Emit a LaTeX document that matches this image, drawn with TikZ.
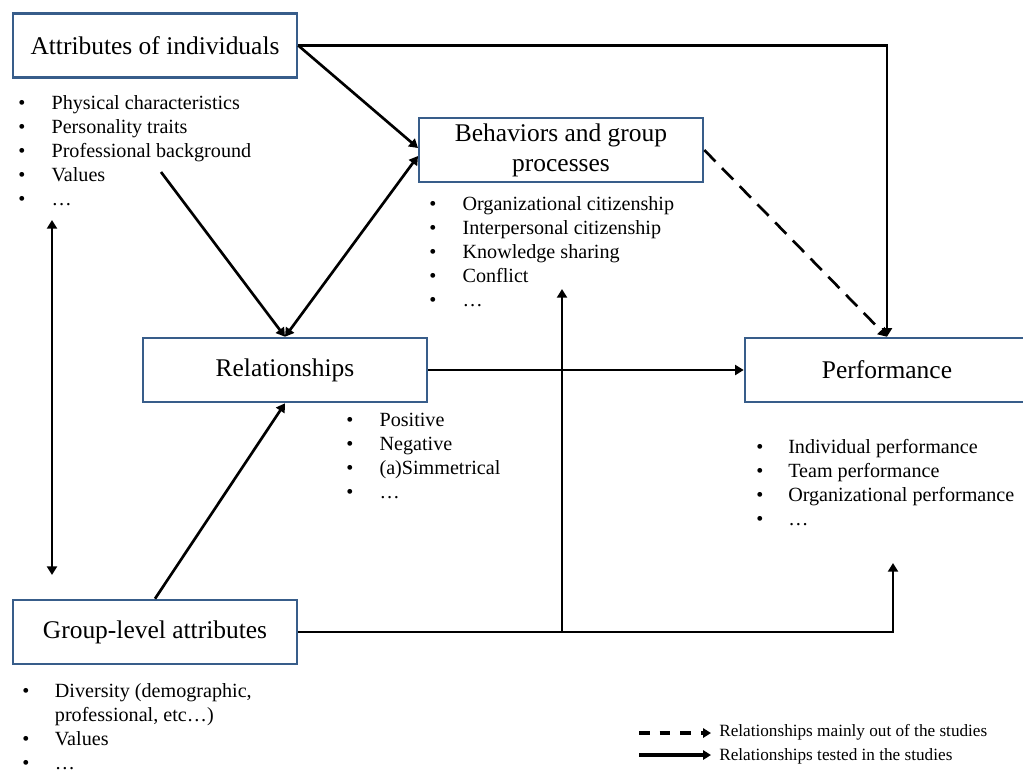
\documentclass[tikz,border=0pt]{standalone}
\usepackage{fontspec}
\setmainfont{Liberation Serif}
\usetikzlibrary{arrows.meta}
\definecolor{boxblue}{RGB}{56,93,138}

\begin{document}
\begin{tikzpicture}[x=0.75pt,y=-0.75pt,
  box/.style={draw=boxblue, line width=1.9pt, fill=white,
    minimum width=213pt, minimum height=48pt, inner sep=0pt,
    align=center, font=\fontsize{19.1}{22.5}\selectfont},
  link/.style={line width=2pt, -{Triangle[length=6.5pt,width=7.5pt]}},
  both/.style={line width=2pt, {Triangle[length=6.5pt,width=7.5pt]}-{Triangle[length=6.5pt,width=7.5pt]}},
  guess/.style={link, dash pattern=on 12pt off 7pt},
  items/.style={anchor=base west, inner sep=0pt, font=\fontsize{15.1}{18}\selectfont},
  key/.style={anchor=base west, inner sep=0pt, font=\fontsize{12.9}{15}\selectfont},
  keyline/.style={line width=2.6pt, -{Triangle[length=6pt,width=7pt]}}]

\useasboundingbox (0,0) rectangle (1023,769);
\clip (0,0) rectangle (1023,769);

% main boxes
\node[box] (A) at (155,45.5) {Attributes of individuals};
\node[box] (B) at (561,150) {Behaviors and group\\processes};
\node[box] (R) at (285,370) {Relationships};
\node[box] (P) at (887,370) {Performance};
\node[box] (G) at (155,632) {Group-level attributes};

% bullet lists
\node[items] (LA) at (18,109) {\begin{tabular}[t]{@{}p{25pt}@{}l@{}}
  \textbullet & Physical characteristics\\
  \textbullet & Personality traits\\
  \textbullet & Professional background\\
  \textbullet & Values\\
  \textbullet & …
\end{tabular}};
\node[items] (LB) at (429,210.5) {\begin{tabular}[t]{@{}p{25pt}@{}l@{}}
  \textbullet & Organizational citizenship\\
  \textbullet & Interpersonal citizenship\\
  \textbullet & Knowledge sharing\\
  \textbullet & Conflict\\
  \textbullet & …
\end{tabular}};
\node[items] (LR) at (346,426) {\begin{tabular}[t]{@{}p{25pt}@{}l@{}}
  \textbullet & Positive\\
  \textbullet & Negative\\
  \textbullet & (a)Simmetrical\\
  \textbullet & …
\end{tabular}};
\node[items] (LP) at (756,453) {\begin{tabular}[t]{@{}p{24pt}@{}l@{}}
  \textbullet & Individual performance\\
  \textbullet & Team performance\\
  \textbullet & Organizational performance\\
  \textbullet & …
\end{tabular}};
\node[items] (LG) at (22,697) {\begin{tabular}[t]{@{}p{24.5pt}@{}l@{}}
  \textbullet & Diversity (demographic,\\
              & professional, etc…)\\
  \textbullet & Values\\
  \textbullet & …
\end{tabular}};

% free ends of connectors
\coordinate (vs) at (161,172);
\coordinate (dt) at (52,220);
\coordinate (db) at (52,575);
\coordinate (gj) at (562,632);
\coordinate (gu) at (562,289);
\coordinate (gp) at (893,563);
\coordinate (bw1) at (418,148);
\coordinate (bw2) at (418,156);

% connectors
\draw[link] (A.east) -| (P.north);
\draw[link] (A.east) -- (bw1);
\draw[link] (vs) -- (R.north);
\draw[both] (R.north) -- (bw2);
\draw[both] (dt) -- (db);
\draw[link] (G.north) -- (R.south);
\draw[link] (R.east) -- (P.west);
\draw[link] (G.east) -| (gp);
\draw[link] (gj) -- (gu);
\draw[guess] (B.east) -- (P.north);

% legend
\coordinate (k1a) at (639,733);
\coordinate (k1b) at (711,733);
\coordinate (k2a) at (639,755);
\coordinate (k2b) at (711,755);
\draw[keyline, dash pattern=on 8pt off 7.5pt] (k1a) -- (k1b);
\draw[keyline] (k2a) -- (k2b);
\node[key] (K1) at (719,736) {Relationships mainly out of the studies};
\node[key] (K2) at (719,760) {Relationships tested in the studies};
\end{tikzpicture}
\end{document}
